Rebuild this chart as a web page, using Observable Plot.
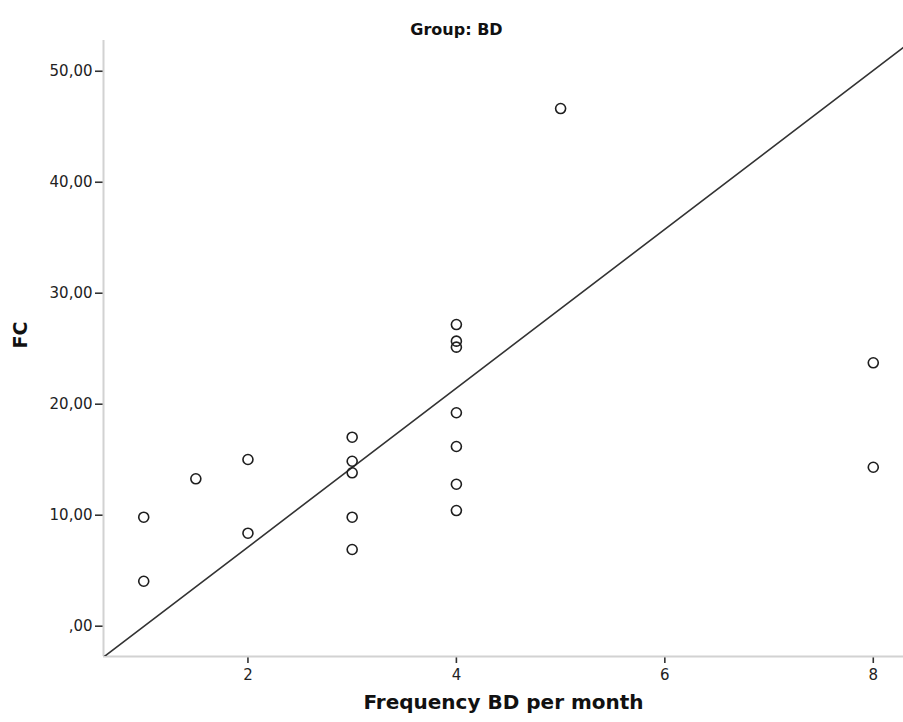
<!DOCTYPE html>
<html>
<head>
<meta charset="utf-8">
<script src="https://cdn.jsdelivr.net/npm/d3@7"></script>
<script src="https://cdn.jsdelivr.net/npm/@observablehq/plot@0.6"></script>
<style>
  body { margin: 0; background: #fff; }
  svg { display: block; }
  g[aria-label="x-axis tick"] path, g[aria-label="y-axis tick"] path { stroke-width: 1.6; stroke: #333; }
</style>
</head>
<body>
<div id="chart"></div>
<script>
// ---- data ----
const title = "Group: BD";
const xLabel = "Frequency BD per month";
const yLabel = "FC";
const freq = [1, 1, 1.5, 2, 2, 3, 3, 3, 3, 3, 4, 4, 4, 4, 4, 4, 4, 5, 8, 8];
const fc   = [9.82, 4.05, 13.28, 15.02, 8.38, 17.03, 14.86, 13.82, 9.82, 6.91,
              27.18, 25.68, 25.14, 19.23, 16.19, 12.79, 10.42, 46.64, 23.73, 14.32];
const xTicks = [2, 4, 6, 8];
const yTicks = [0, 10, 20, 30, 40, 50];
const yTickLabels = [",00", "10,00", "20,00", "30,00", "40,00", "50,00"];
const xDomain = [0.614, 8.29];
const yDomain = [-2.73, 52.77];
const fitIntercept = -7.18;
const fitSlope = 7.157;

const points = freq.map((f, i) => ({ freq: f, fc: fc[i] }));
const fitLine = xDomain.map(x => ({ x, y: fitIntercept + fitSlope * x }));

const plot = Plot.plot({
  width: 903,
  height: 722,
  marginTop: 40,
  marginBottom: 66,
  marginLeft: 103,
  marginRight: 0,
  style: { fontFamily: "DejaVu Sans", fontSize: "15px", color: "#222", background: "#fff" },
  x: { domain: xDomain, ticks: xTicks, tickSize: 7, tickPadding: 6, label: null },
  y: { domain: yDomain, ticks: yTicks, tickSize: 8, tickPadding: 3, label: null,
       tickFormat: d => yTickLabels[yTicks.indexOf(d)] },
  marks: [
    Plot.ruleX([xDomain[0]], { stroke: "#d2d2d2", strokeWidth: 2 }),
    Plot.ruleY([yDomain[0]], { stroke: "#d2d2d2", strokeWidth: 2 }),
    Plot.line(fitLine, { x: "x", y: "y", stroke: "#333", strokeWidth: 1.6, clip: true }),
    Plot.dot(points, { x: "freq", y: "fc", r: 5, stroke: "#1e1e1e", strokeWidth: 1.6, fill: "none" }),
    Plot.text([title], { frameAnchor: "top", dx: -47, dy: -17, fontWeight: "bold", fontSize: 16, fill: "#111" }),
    Plot.text([xLabel], { frameAnchor: "bottom", dy: 52, fontWeight: "bold", fontSize: 20, fill: "#111" }),
    Plot.text([yLabel], { frameAnchor: "left", dx: -83, rotate: -90, fontWeight: "bold", fontSize: 19, fill: "#111" })
  ]
});
document.getElementById("chart").append(plot);
</script>
</body>
</html>
